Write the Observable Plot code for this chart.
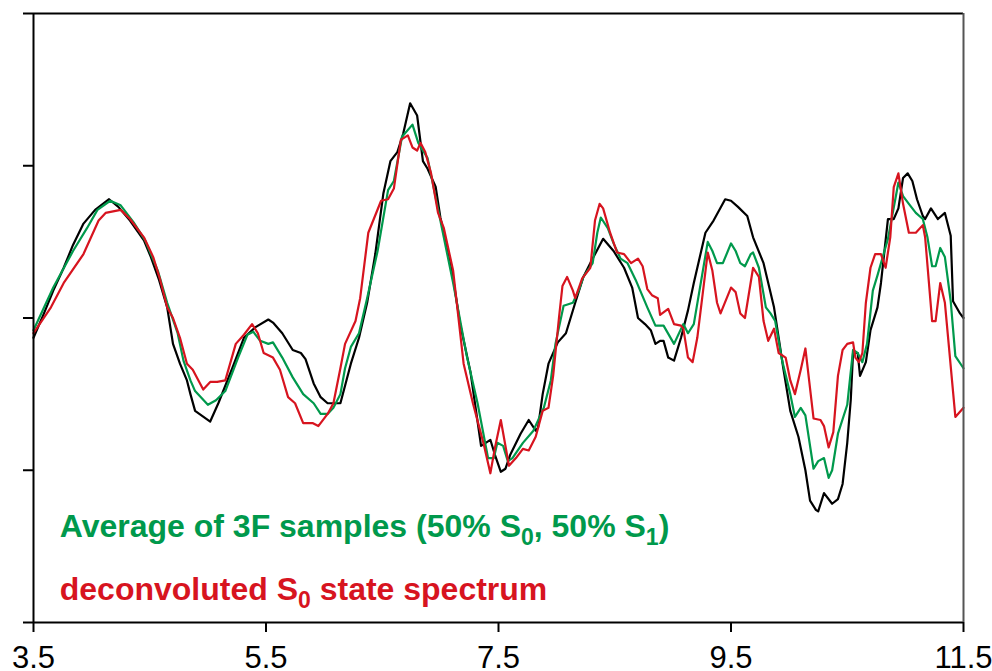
<!DOCTYPE html>
<html>
<head>
<meta charset="utf-8">
<script src="https://cdn.jsdelivr.net/npm/d3@7"></script>
<script src="https://cdn.jsdelivr.net/npm/@observablehq/plot@0.6"></script>
<style>
  html, body { margin: 0; padding: 0; background: #fff; }
  #chart { width: 992px; height: 671px; }
</style>
</head>
<body>
<div id="chart"></div>
<script>
// Spectra: [x, intensity] pairs (intensity in arbitrary units, one unit per y tick)
const measured = [
  [3.50,1.87],[3.59,2.03],[3.67,2.18],[3.76,2.33],[3.84,2.48],[3.93,2.62],[4.03,2.71],[4.15,2.78],[4.23,2.73],[4.33,2.64],
  [4.45,2.51],[4.51,2.40],[4.58,2.25],[4.65,2.07],[4.70,1.83],[4.76,1.70],[4.82,1.59],[4.85,1.50],[4.89,1.39],[5.02,1.32],
  [5.09,1.44],[5.21,1.67],[5.31,1.87],[5.41,1.94],[5.52,1.99],[5.56,1.97],[5.64,1.90],[5.73,1.79],[5.80,1.77],[5.84,1.73],
  [5.91,1.57],[5.97,1.48],[6.03,1.44],[6.08,1.44],[6.14,1.44],[6.23,1.70],[6.30,1.87],[6.37,2.10],[6.44,2.42],[6.51,2.82],
  [6.57,3.03],[6.63,3.09],[6.68,3.21],[6.74,3.41],[6.80,3.33],[6.85,3.03],[6.89,2.98],[6.96,2.86],[7.00,2.66],[7.09,2.36],
  [7.17,1.96],[7.26,1.64],[7.35,1.16],[7.43,1.20],[7.47,1.10],[7.52,0.99],[7.56,1.01],[7.60,1.10],[7.69,1.24],[7.76,1.33],
  [7.82,1.26],[7.84,1.28],[7.88,1.50],[7.93,1.70],[8.01,1.84],[8.08,1.90],[8.16,2.10],[8.23,2.27],[8.31,2.39],[8.40,2.52],
  [8.49,2.44],[8.58,2.33],[8.65,2.20],[8.70,2.00],[8.76,1.96],[8.81,1.92],[8.85,1.83],[8.89,1.85],[8.92,1.85],[8.96,1.74],
  [9.01,1.72],[9.07,1.87],[9.13,2.05],[9.18,2.23],[9.28,2.56],[9.35,2.64],[9.45,2.78],[9.50,2.77],[9.56,2.73],[9.64,2.67],
  [9.69,2.53],[9.78,2.36],[9.87,2.07],[9.95,1.67],[10.01,1.39],[10.08,1.22],[10.14,1.00],[10.18,0.80],[10.23,0.74],[10.25,0.73],
  [10.30,0.85],[10.37,0.78],[10.42,0.81],[10.46,0.91],[10.50,1.18],[10.53,1.46],[10.55,1.77],[10.59,1.77],[10.61,1.62],[10.66,1.71],
  [10.70,1.92],[10.76,2.07],[10.79,2.23],[10.85,2.65],[10.90,2.65],[10.94,2.72],[10.98,2.92],[11.02,2.95],[11.06,2.90],[11.10,2.78],
  [11.15,2.67],[11.17,2.65],[11.22,2.72],[11.28,2.65],[11.34,2.69],[11.39,2.54],[11.41,2.11],[11.47,2.03],[11.50,2.00]
];

const average3F = [
  [3.50,1.92],[3.67,2.20],[3.84,2.44],[3.96,2.59],[4.05,2.71],[4.16,2.77],[4.25,2.74],[4.36,2.63],[4.46,2.51],[4.57,2.31],
  [4.65,2.10],[4.74,1.90],[4.79,1.72],[4.85,1.59],[4.89,1.52],[5.00,1.43],[5.07,1.46],[5.15,1.52],[5.26,1.74],[5.34,1.89],
  [5.39,1.91],[5.45,1.85],[5.52,1.83],[5.56,1.84],[5.64,1.74],[5.73,1.61],[5.82,1.50],[5.91,1.44],[5.97,1.37],[6.03,1.37],
  [6.08,1.41],[6.14,1.50],[6.18,1.67],[6.23,1.81],[6.30,1.90],[6.37,2.13],[6.46,2.44],[6.55,2.84],[6.60,2.90],[6.67,3.19],
  [6.76,3.27],[6.81,3.15],[6.89,3.05],[7.00,2.64],[7.11,2.23],[7.23,1.74],[7.32,1.44],[7.41,1.08],[7.46,1.08],[7.49,1.18],
  [7.54,1.16],[7.58,1.06],[7.62,1.08],[7.71,1.18],[7.80,1.26],[7.89,1.41],[7.95,1.59],[7.99,1.83],[8.06,2.08],[8.14,2.10],
  [8.19,2.18],[8.23,2.27],[8.31,2.36],[8.35,2.56],[8.38,2.66],[8.44,2.59],[8.49,2.49],[8.55,2.39],[8.61,2.36],[8.68,2.25],
  [8.78,2.07],[8.85,1.95],[8.92,1.95],[9.01,1.83],[9.09,1.96],[9.13,1.90],[9.18,1.96],[9.30,2.50],[9.34,2.44],[9.38,2.36],
  [9.43,2.36],[9.50,2.49],[9.54,2.44],[9.58,2.36],[9.62,2.34],[9.67,2.42],[9.69,2.43],[9.74,2.33],[9.80,2.07],[9.84,2.03],
  [9.88,1.98],[9.94,1.72],[10.01,1.50],[10.05,1.35],[10.10,1.41],[10.14,1.36],[10.21,1.01],[10.25,1.06],[10.30,1.08],[10.34,0.95],
  [10.37,1.00],[10.42,1.24],[10.50,1.43],[10.55,1.79],[10.59,1.77],[10.63,1.71],[10.67,1.83],[10.72,2.18],[10.76,2.28],[10.85,2.52],
  [10.94,2.89],[10.98,2.80],[11.03,2.75],[11.09,2.69],[11.15,2.65],[11.19,2.53],[11.23,2.34],[11.26,2.34],[11.30,2.46],[11.34,2.40],
  [11.39,2.11],[11.43,1.75],[11.50,1.67]
];

const deconvolutedS0 = [
  [3.50,1.90],[3.65,2.07],[3.76,2.23],[3.93,2.42],[4.06,2.64],[4.12,2.69],[4.25,2.71],[4.33,2.65],[4.45,2.53],[4.53,2.40],
  [4.59,2.25],[4.65,2.07],[4.70,2.00],[4.76,1.87],[4.82,1.70],[4.87,1.66],[4.96,1.53],[5.02,1.58],[5.08,1.58],[5.15,1.59],
  [5.24,1.83],[5.31,1.89],[5.38,1.96],[5.43,1.90],[5.48,1.77],[5.56,1.74],[5.62,1.66],[5.69,1.48],[5.75,1.44],[5.82,1.31],
  [5.90,1.31],[5.95,1.29],[6.03,1.37],[6.08,1.44],[6.14,1.67],[6.18,1.83],[6.27,1.98],[6.31,2.13],[6.38,2.56],[6.49,2.77],
  [6.55,2.78],[6.60,2.85],[6.66,3.17],[6.72,3.20],[6.76,3.12],[6.80,3.10],[6.83,3.15],[6.87,3.09],[6.92,2.95],[6.98,2.69],
  [7.03,2.59],[7.11,2.31],[7.20,1.70],[7.28,1.44],[7.37,1.18],[7.43,0.98],[7.47,1.15],[7.52,1.33],[7.59,1.03],[7.65,1.08],
  [7.71,1.14],[7.76,1.13],[7.82,1.22],[7.88,1.39],[7.93,1.41],[7.97,1.62],[8.02,2.00],[8.05,2.21],[8.09,2.27],[8.14,2.18],
  [8.16,2.13],[8.22,2.26],[8.27,2.31],[8.29,2.33],[8.33,2.64],[8.37,2.75],[8.40,2.72],[8.46,2.56],[8.52,2.43],[8.58,2.42],
  [8.64,2.36],[8.70,2.39],[8.74,2.34],[8.78,2.19],[8.82,2.15],[8.87,2.13],[8.89,2.02],[8.96,2.06],[9.01,1.96],[9.07,1.95],
  [9.09,1.93],[9.13,1.74],[9.17,1.71],[9.21,1.87],[9.30,2.43],[9.34,2.31],[9.38,2.10],[9.41,2.03],[9.50,2.20],[9.54,2.17],
  [9.58,2.03],[9.62,2.00],[9.69,2.33],[9.74,2.27],[9.78,1.98],[9.82,1.85],[9.87,1.93],[9.91,1.77],[9.97,1.74],[10.01,1.59],
  [10.05,1.50],[10.10,1.66],[10.14,1.80],[10.21,1.34],[10.27,1.33],[10.30,1.29],[10.34,1.15],[10.38,1.25],[10.42,1.62],[10.46,1.79],
  [10.50,1.83],[10.55,1.84],[10.57,1.74],[10.60,1.71],[10.63,1.77],[10.66,2.10],[10.70,2.33],[10.74,2.42],[10.79,2.42],[10.83,2.33],
  [10.87,2.53],[10.90,2.86],[10.94,2.95],[10.98,2.75],[11.03,2.56],[11.09,2.56],[11.15,2.61],[11.17,2.53],[11.23,1.98],[11.26,1.98],
  [11.30,2.23],[11.34,2.10],[11.43,1.35],[11.50,1.41]
];

const xTicks = [3.5, 5.5, 7.5, 9.5, 11.5];
const yTicks = [0, 1, 2, 3, 4];

const seriesColors = { measured: "#000000", average3F: "#00994c", deconvolutedS0: "#d7141f" };

// Legend lines: text runs, "sub" marks a subscript run; anchored in data units
const legendAverage = [["Average of 3F samples (50% S", ""], ["0", "sub"], [", 50% S", ""], ["1", "sub"], [")", ""]];
const legendDeconv = [["deconvoluted S", ""], ["0", "sub"], [" state spectrum", ""]];
const legendItems = [
  { runs: legendAverage, color: seriesColors.average3F, x: 3.73, y: 0.56 },
  { runs: legendDeconv, color: seriesColors.deconvolutedS0, x: 3.73, y: 0.145 }
];

const xy = { x: d => d[0], y: d => d[1] };

const chart = Plot.plot({
  width: 992,
  height: 671,
  marginLeft: 33,
  marginRight: 29,
  marginTop: 13,
  marginBottom: 49,
  style: { fontFamily: "Arial, 'Liberation Sans', sans-serif", background: "#fff", color: "#000", overflow: "visible" },
  x: { domain: [3.5, 11.5] },
  y: { domain: [0, 4] },
  marks: [
    Plot.axisX({ ticks: xTicks, tickSize: 10, tickPadding: 13, fontSize: 31, strokeWidth: 2, tickFormat: d => String(d), label: null }),
    Plot.axisY({ ticks: yTicks, tickSize: 10, strokeWidth: 2, tickFormat: () => "", label: null }),
    Plot.line(measured, { ...xy, stroke: seriesColors.measured, strokeWidth: 2.2 }),
    Plot.line(average3F, { ...xy, stroke: seriesColors.average3F, strokeWidth: 2.2 }),
    Plot.line(deconvolutedS0, { ...xy, stroke: seriesColors.deconvolutedS0, strokeWidth: 2.2 }),
    Plot.ruleY([0, 4], { stroke: "#000", strokeWidth: 2 }),
    Plot.ruleX([3.5], { stroke: "#000", strokeWidth: 2 }),
    Plot.ruleX([11.5], { stroke: "#555", strokeWidth: 2 })
  ]
});

// Legend text with subscripts, placed through the chart's scales
const sx = chart.scale("x"), sy = chart.scale("y");
const svg = d3.select(chart);
for (const item of legendItems) {
  const t = svg.append("text")
    .attr("x", sx.apply(item.x))
    .attr("y", sy.apply(item.y))
    .attr("text-anchor", "start")
    .attr("fill", item.color)
    .attr("font-family", "Arial, 'Liberation Sans', sans-serif")
    .attr("font-weight", "bold")
    .attr("font-size", 32);
  let shifted = false;
  for (const [str, kind] of item.runs) {
    const span = t.append("tspan").text(str);
    if (kind === "sub") {
      span.attr("font-size", 23).attr("dy", 8);
      shifted = true;
    } else if (shifted) {
      span.attr("dy", -8);
      shifted = false;
    }
  }
}

document.getElementById("chart").appendChild(chart);
</script>
</body>
</html>
